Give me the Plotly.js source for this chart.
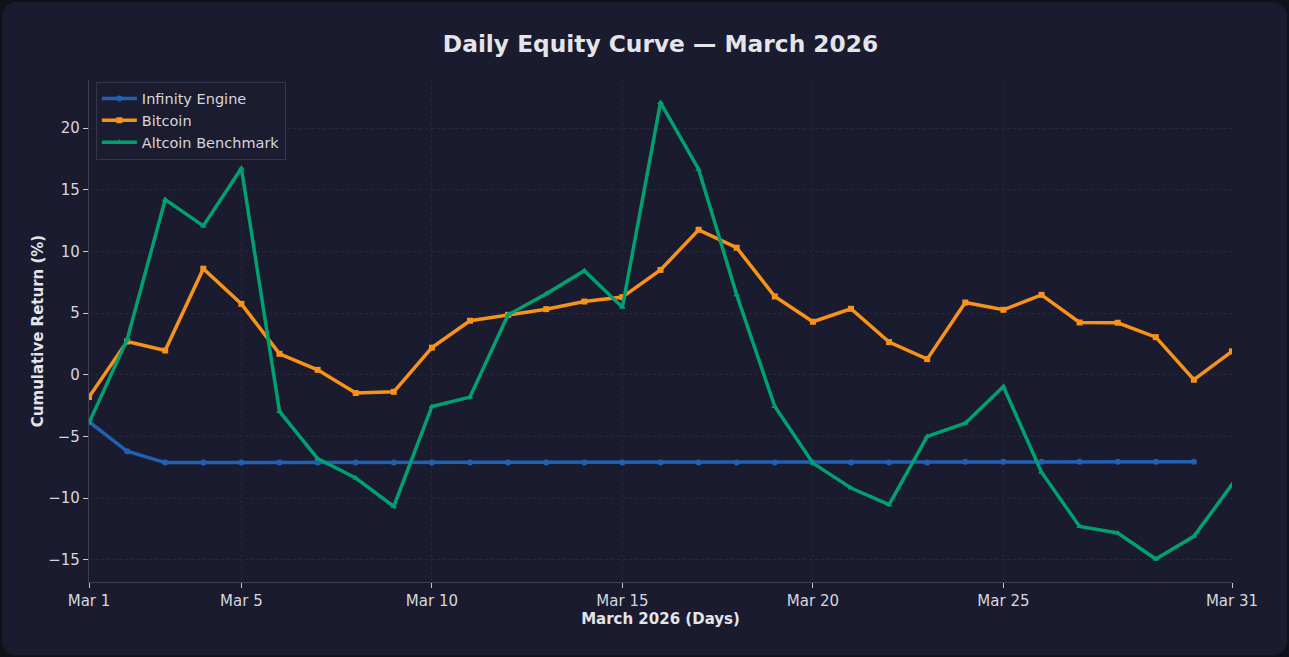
<!DOCTYPE html>
<html><head><meta charset="utf-8">
<script src="https://cdn.plot.ly/plotly-3.0.1.min.js"></script>
<style>
html,body{margin:0;padding:0;background:#101119;width:1289px;height:657px;overflow:hidden;}
#card{position:absolute;left:2px;top:2px;width:1285px;height:653px;background:#1a1b2e;border-radius:14px;overflow:hidden;}
#chart{position:absolute;left:-2px;top:-2px;width:1289px;height:657px;}
</style></head>
<body><div id="card"><div id="chart"></div></div>
<script>
const days = ["2026-03-01","2026-03-02","2026-03-03","2026-03-04","2026-03-05","2026-03-06","2026-03-07","2026-03-08","2026-03-09","2026-03-10",
"2026-03-11","2026-03-12","2026-03-13","2026-03-14","2026-03-15","2026-03-16","2026-03-17","2026-03-18","2026-03-19","2026-03-20",
"2026-03-21","2026-03-22","2026-03-23","2026-03-24","2026-03-25","2026-03-26","2026-03-27","2026-03-28","2026-03-29","2026-03-30","2026-03-31"];
const infinityEngine = [-3.8,-6.2,-7.12,-7.12,-7.12,-7.12,-7.12,-7.12,-7.12,-7.12,-7.12,-7.12,-7.12,-7.12,-7.12,-7.12,-7.12,-7.12,-7.12,-7.12,
-7.12,-7.12,-7.12,-7.05,-7.05,-7.05,-7.05,-7.05,-7.05,-7.05];
const bitcoin = [-1.8,2.7,1.97,8.6,5.75,1.7,0.4,-1.48,-1.38,2.2,4.38,4.86,5.32,5.94,6.3,8.5,11.75,10.3,6.35,4.3,
5.35,2.65,1.27,5.86,5.27,6.48,4.24,4.22,3.05,-0.4,1.9];
const altcoin = [-3.9,2.84,14.2,12.07,16.75,-2.97,-6.8,-8.37,-10.67,-2.57,-1.81,4.86,6.56,8.43,5.48,22.07,16.67,6.48,-2.57,-7.16,
-9.18,-10.53,-5.0,-3.92,-0.95,-7.9,-12.3,-12.83,-14.94,-13.1,-8.9];
const tickDates = ["2026-03-01","2026-03-05","2026-03-10","2026-03-15","2026-03-20","2026-03-25","2026-03-31"];
const tickLabels = ["Mar 1","Mar 5","Mar 10","Mar 15","Mar 20","Mar 25","Mar 31"];

const FONT = "DejaVu Sans, Verdana, sans-serif";
const traces = [
 {x: days.slice(0, infinityEngine.length), y: infinityEngine, name: "Infinity Engine", mode: "lines+markers",
  line: {color: "#2160b4", width: 3.5}, marker: {symbol: "circle", size: 6, color: "#2160b4"}},
 {x: days, y: bitcoin, name: "Bitcoin", mode: "lines+markers",
  line: {color: "#f7931a", width: 3.5}, marker: {symbol: "square", size: 6, color: "#f7931a"}},
 {x: days, y: altcoin, name: "Altcoin Benchmark", mode: "lines+markers",
  line: {color: "#00a070", width: 3.5}, marker: {symbol: "triangle-up", size: 6, color: "#00a070"}}
];
const layout = {
 width: 1289, height: 657,
 paper_bgcolor: "rgba(0,0,0,0)", plot_bgcolor: "rgba(0,0,0,0)",
 margin: {l: 89, r: 57, t: 80, b: 75},
 font: {family: FONT, color: "#d6d6de", size: 15},
 title: {text: "<b>Daily Equity Curve — March 2026</b>", xref: "paper", x: 0.5, xanchor: "center", y: 0.933, yanchor: "middle",
   font: {family: FONT, size: 23.3, color: "#e4e4ea"}},
 xaxis: {type: "date", range: ["2026-03-01","2026-03-31"], tickvals: tickDates, ticktext: tickLabels,
   showgrid: true, gridcolor: "#26283d", griddash: "dot", gridwidth: 1,
   showline: true, linecolor: "#3c3f55", linewidth: 1.2,
   ticks: "outside", ticklen: 5, tickcolor: "#c8c8d0", tickfont: {size: 15, color: "#d6d6de"},
   zeroline: false,
   title: {text: "<b>March 2026 (Days)</b>", font: {size: 15, color: "#e4e4ea"}, standoff: 4}},
 yaxis: {range: [-16.8, 23.9], tickvals: [-15,-10,-5,0,5,10,15,20],
   showgrid: true, gridcolor: "#26283d", griddash: "dot", gridwidth: 1,
   showline: true, linecolor: "#3c3f55", linewidth: 1.2,
   ticks: "outside", ticklen: 5, tickcolor: "#c8c8d0", tickfont: {size: 15, color: "#d6d6de"},
   zeroline: false,
   title: {text: "<b>Cumulative Return (%)</b>", font: {size: 15, color: "#e4e4ea"}, standoff: 0}},
 legend: {x: 0.006, y: 0.997, xanchor: "left", yanchor: "top", bgcolor: "#1b1c2f",
   bordercolor: "#34364c", borderwidth: 1, font: {size: 14.5, color: "#d6d6de"}, tracegroupgap: 0, itemwidth: 35},
 showlegend: true
};
Plotly.newPlot("chart", traces, layout, {displayModeBar: false, staticPlot: true});
</script></body></html>
